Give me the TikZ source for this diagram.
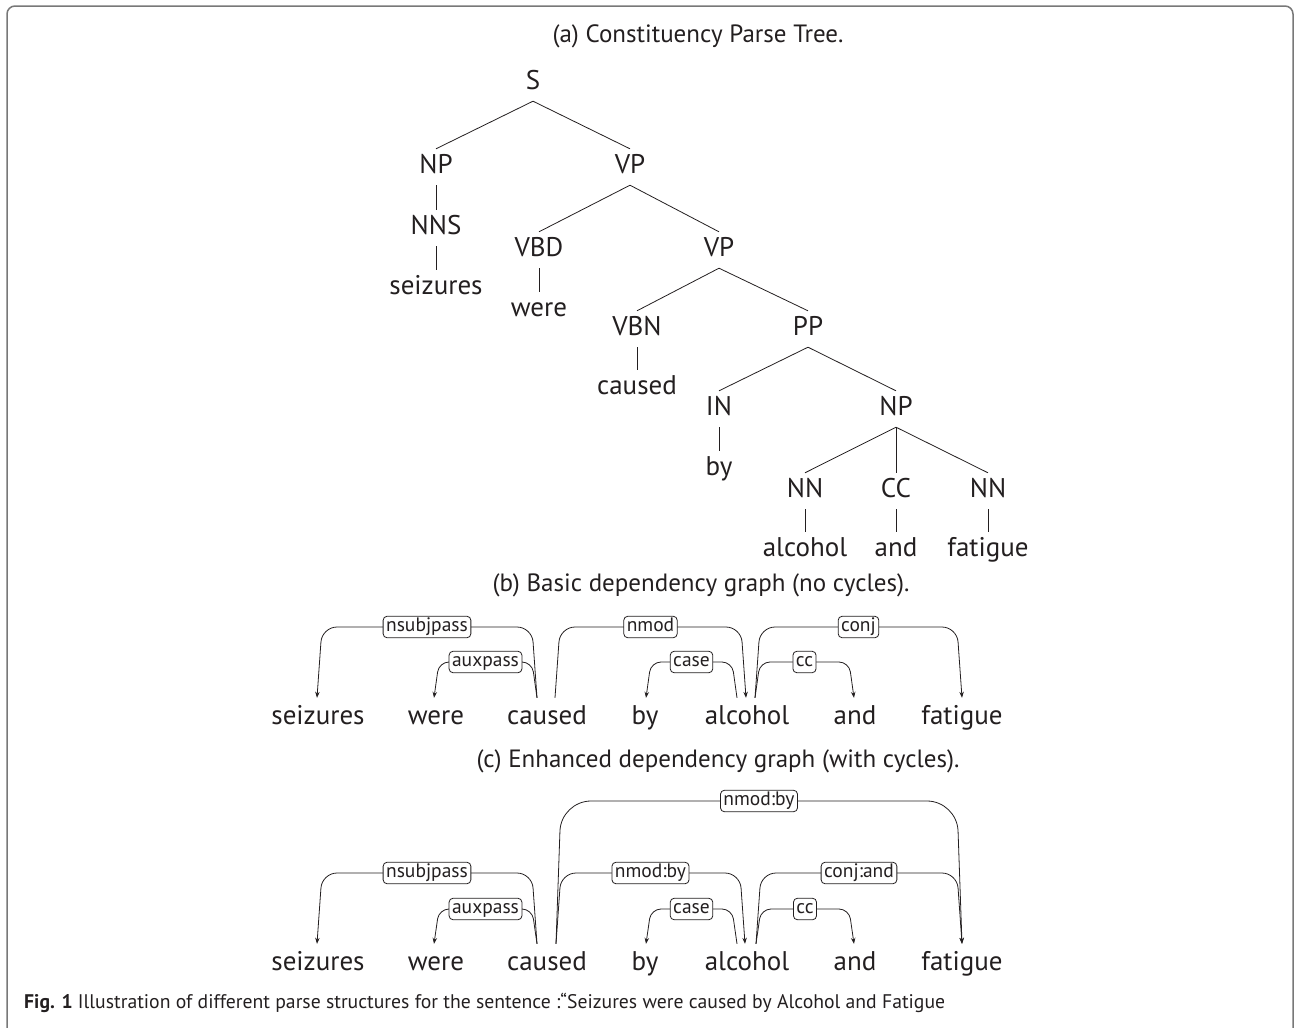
\documentclass[tikz,border=0pt]{standalone}
\usepackage{fontspec}
\usepackage{graphicx}
\setmainfont{PT Sans}
\usetikzlibrary{arrows.meta,calc}
\definecolor{ink}{RGB}{35,31,32}
\definecolor{framegray}{RGB}{120,120,120}
\newcommand\deparc[6]{%
  \draw[arc,rounded corners=#5] let \p1=(#1), \p2=(#2), \n1={ifthenelse(\x2>\x1,5,-5)} in
    (#1) -- (\x1+\n1,-#3pt) -- (\x2-\n1,-#3pt) -- (#2);
  \path let \p1=(#1), \p2=(#2) in node[lab] (#6) at ({(\x1+\x2)/2},-#3pt) {#4};}
\begin{document}
\begin{tikzpicture}[x=1pt,y=-1pt,
  tn/.style={font=\fontsize{27}{27}\selectfont, text=ink, anchor=base, inner sep=0pt, text height=24pt, text depth=12pt},
  dw/.style={font=\fontsize{27}{27}\selectfont, text=ink, anchor=base, inner sep=0pt, text height=26pt, text depth=7pt},
  ttl/.style={font=\fontsize{25}{25}\selectfont, text=ink, anchor=base, inner sep=0pt},
  tl/.style={draw=ink, line width=0.8pt},
  arc/.style={draw=ink, line width=0.8pt, -{Stealth[length=6pt,width=4.5pt]}},
  lab/.style={draw=ink, fill=white, rounded corners=4pt, line width=0.8pt, font=\fontsize{19.5}{19.5}\selectfont, text=ink, inner xsep=3pt, inner ysep=2pt, text height=13.5pt, text depth=4pt}]
\useasboundingbox (0,0) rectangle (1294,1028);
% frame
\draw[framegray, line width=1.5pt, rounded corners=8pt] (7,1040) -- (7,6) -- (1293,6) -- (1293,1040);

% (a) tree
\node[ttl] (ta) at (698,42) {(a) Constituency Parse Tree.};
\node[tn] (S) at (533,89) {S};
\node[tn] (NP) at (436,173) {NP};
\node[tn] (VP) at (630,173) {VP};
\node[tn] (NNS) at (436,234) {NNS};
\node[tn] (seiz) at (436,294) {seizures};
\node[tn] (VBD) at (539,256) {VBD};
\node[tn] (VPb) at (719,256) {VP};
\node[tn] (were) at (539,316) {were};
\node[tn] (VBN) at (637,335) {VBN};
\node[tn] (PP) at (808,335) {PP};
\node[tn] (caused) at (637,394) {caused};
\node[tn] (IN) at (719,415) {IN};
\node[tn] (NPb) at (896,415) {NP};
\node[tn] (by) at (719,475) {by};
\node[tn] (NNa) at (805,497) {NN};
\node[tn] (CC) at (896,497) {CC};
\node[tn] (NNb) at (988,497) {NN};
\node[tn] (alc) at (805,556) {alcohol};
\node[tn] (and) at (896,556) {and};
\node[tn] (fat) at (988,556) {fatigue};
\draw[tl] (S.south) -- (NP.north);
\draw[tl] (S.south) -- (VP.north);
\draw[tl] (NP.south) -- (NNS.north);
\draw[tl] (NNS.south) -- (seiz.north);
\draw[tl] (VP.south) -- (VBD.north);
\draw[tl] (VP.south) -- (VPb.north);
\draw[tl] (VBD.south) -- (were.north);
\draw[tl] (VPb.south) -- (VBN.north);
\draw[tl] (VPb.south) -- (PP.north);
\draw[tl] (VBN.south) -- (caused.north);
\draw[tl] (PP.south) -- (IN.north);
\draw[tl] (PP.south) -- (NPb.north);
\draw[tl] (IN.south) -- (by.north);
\draw[tl] (NPb.south) -- (NNa.north);
\draw[tl] (NPb.south) -- (CC.north);
\draw[tl] (NPb.south) -- (NNb.north);
\draw[tl] (NNa.south) -- (alc.north);
\draw[tl] (CC.south) -- (and.north);
\draw[tl] (NNb.south) -- (fat.north);

% (b) basic dependency graph
\node[ttl] (tb) at (701,591) {(b) Basic dependency graph (no cycles).};
\node[dw] (bseiz) at (318,724) {seizures};
\node[dw] (bwere) at (436,724) {were};
\node[dw] (bcaused) at (547,724) {caused};
\node[dw] (bby) at (645,724) {by};
\node[dw] (balc) at (747,724) {alcohol};
\node[dw] (band) at (855,724) {and};
\node[dw] (bfat) at (962,724) {fatigue};
\deparc{[xshift=-10pt]bcaused.north}{[xshift=-1pt]bseiz.north}{627}{nsubjpass}{15pt}{bl1}
\deparc{[xshift=-10pt]bcaused.north}{[xshift=-2pt]bwere.north}{662}{auxpass}{10pt}{bl2}
\deparc{[xshift=8pt]bcaused.north}{[xshift=-1pt]balc.north}{627}{nmod}{15pt}{bl3}
\deparc{[xshift=-10pt]balc.north}{[xshift=1pt]bby.north}{662}{case}{10pt}{bl4}
\deparc{[xshift=8pt]balc.north}{bfat.north}{627}{conj}{15pt}{bl5}
\deparc{[xshift=8pt]balc.north}{[xshift=-1pt]band.north}{662}{cc}{10pt}{bl6}

% (c) enhanced dependency graph
\node[ttl] (tc) at (718,767) {(c) Enhanced dependency graph (with cycles).};
\node[dw] (cseiz) at (318,970) {seizures};
\node[dw] (cwere) at (436,970) {were};
\node[dw] (ccaused) at (547,970) {caused};
\node[dw] (cby) at (645,970) {by};
\node[dw] (calc) at (747,970) {alcohol};
\node[dw] (cand) at (855,970) {and};
\node[dw] (cfat) at (962,970) {fatigue};
\deparc{[xshift=-10pt]ccaused.north}{[xshift=-1pt]cseiz.north}{873}{nsubjpass}{15pt}{cl1}
\deparc{[xshift=-10pt]ccaused.north}{[xshift=-2pt]cwere.north}{909}{auxpass}{10pt}{cl2}
\deparc{[xshift=9pt]ccaused.north}{cfat.north}{801}{nmod:by}{30pt}{cl3}
\deparc{[xshift=9pt]ccaused.north}{[xshift=-2pt]calc.north}{873}{nmod:by}{15pt}{cl4}
\deparc{[xshift=-10pt]calc.north}{[xshift=1pt]cby.north}{909}{case}{10pt}{cl5}
\deparc{[xshift=9pt]calc.north}{cfat.north}{873}{conj:and}{15pt}{cl6}
\deparc{[xshift=9pt]calc.north}{[xshift=-1pt]cand.north}{909}{cc}{10pt}{cl7}

% caption
\node[anchor=base west, inner sep=0pt, text=ink] (cap) at (24,1008)
  {\scalebox{1.0}[1]{\fontsize{19.7}{19.7}\selectfont\textbf{Fig. 1} Illustration of different parse structures for the sentence :“Seizures were caused by Alcohol and Fatigue}};
\end{tikzpicture}
\end{document}
